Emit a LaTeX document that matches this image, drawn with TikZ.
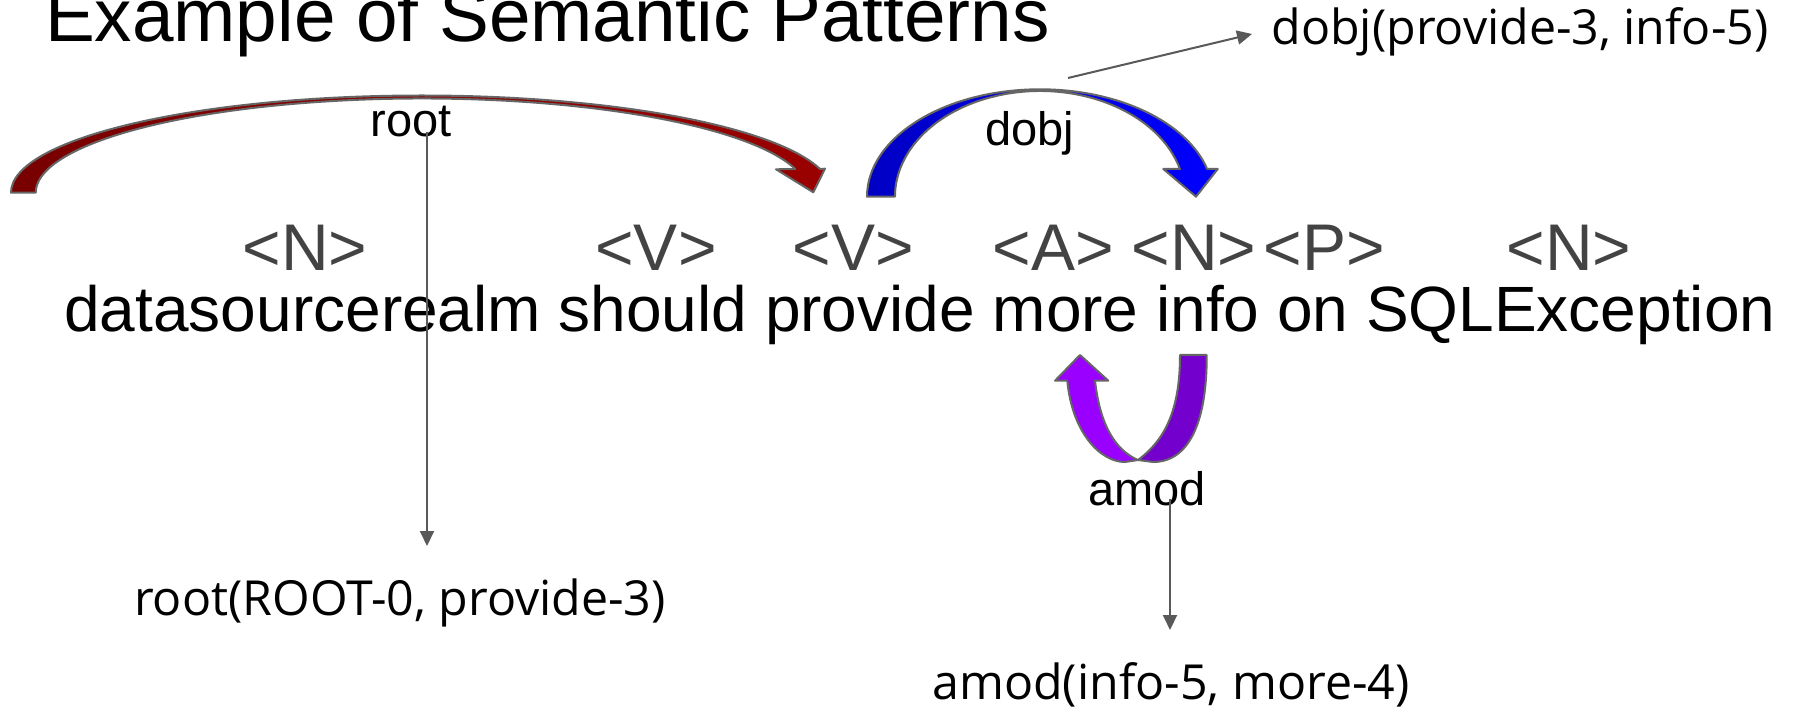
\documentclass[tikz,border=0pt]{standalone}
\usepackage{fontspec}
\setmainfont{Liberation Sans}
\newfontfamily\osans{Open Sans}
\usetikzlibrary{arrows.meta}
\definecolor{tagc}{HTML}{434343}
\definecolor{linec}{HTML}{595959}
\definecolor{edgec}{HTML}{666666}
\definecolor{rootL}{HTML}{780000}
\definecolor{rootR}{HTML}{9A0000}
\definecolor{dobjL}{HTML}{0000C4}
\definecolor{dobjR}{HTML}{0000FF}
\definecolor{amodL}{HTML}{9900FF}
\definecolor{amodR}{HTML}{7300CC}
\begin{document}
\begin{tikzpicture}[x=1pt,y=-1pt,
  txt/.style={inner sep=0pt, outer sep=0pt, anchor=base},
  titletxt/.style={txt, anchor=base west, font=\fontsize{74.7}{80}\selectfont},
  sent/.style={txt, font=\fontsize{64}{70}\selectfont},
  tagtxt/.style={txt, font=\fontsize{66}{72}\selectfont, text=tagc},
  lbl/.style={txt, font=\fontsize{47}{52}\selectfont},
  rel/.style={txt, font=\osans\fontsize{48.3}{52}\selectfont},
  band/.style={draw=edgec, line width=2pt, line join=round},
  ptr/.style={draw=linec, line width=2pt, -{Triangle[length=15pt,width=14pt]}},
]
\useasboundingbox (0,0) rectangle (1793,708);
\clip (0,0) rectangle (1793,708);
\fill[white] (0,0) rectangle (1793,708);

% title
\node[titletxt] (title) at (45,42) {Example of Semantic Patterns};

% root arrow
\path[band, left color=rootL, right color=rootR]
  (11,192.7) arc[start angle=180, end angle=14.11, x radius=410.7pt, y radius=97.2pt]
  -- (825,168.7) -- (813.3,192.3) -- (776,169.3) -- (795.3,169)
  arc[start angle=14.57, end angle=180, x radius=386pt, y radius=94.2pt] -- cycle;

% dobj arrow
\path[band, left color=dobjL, right color=dobjR]
  (867,196.7) arc[start angle=180, end angle=14.95, x radius=173pt, y radius=107.4pt]
  -- (1217.7,169) -- (1196,196.7) -- (1163.3,169) -- (1179.9,169)
  arc[start angle=15.19, end angle=180, x radius=145pt, y radius=105.7pt] -- cycle;

% amod arrow
\path[band, fill=amodR]
  (1180,355) -- (1206.7,355) .. controls (1207,420) and (1190,462) .. (1153,462)
  -- (1138,460) .. controls (1165,440) and (1180,410) .. (1180,355) -- cycle;
\path[band, fill=amodL]
  (1080,355) -- (1108.3,380.7) -- (1095,380.7)
  .. controls (1100,425) and (1115,450) .. (1138,460)
  -- (1125,462) .. controls (1100,462) and (1072,432) .. (1067.3,380.7)
  -- (1055,380.7) -- cycle;

% labels
\node[lbl] (rootlbl) at (411,136.5) {root};
\node[lbl] (dobjlbl) at (1030,146) {dobj};
\node[lbl] (amodlbl) at (1147,505) {amod};

% tags
\node[tagtxt] (tag1) at (305,271) {<N>};
\node[tagtxt] (tag2) at (656,271) {<V>};
\node[tagtxt] (tag3) at (853,271) {<V>};
\node[tagtxt] (tag4) at (1053,271) {<A>};
\node[tagtxt] (tag5) at (1194,271) {<N>};
\node[tagtxt] (tag6) at (1324,271) {<P>};
\node[tagtxt] (tag7) at (1569,271) {<N>};

% sentence
\node[sent] (sent) at (920,332) {datasourcerealm should provide more info on SQLException};

% relation texts
\node[rel] (dobjrel) at (1520,45) {dobj(provide-3, info-5)};
\node[rel] (rootrel) at (400,615) {root(ROOT-0, provide-3)};
\node[rel] (amodrel) at (1171,699) {amod(info-5, more-4)};

% pointers
\coordinate (rootS) at (427,132);
\coordinate (rootE) at (427,546);
\coordinate (dobjS) at (1068,78);
\coordinate (dobjE) at (1252,34);
\coordinate (amodS) at (1170,499);
\coordinate (amodE) at (1170,630);
\draw[ptr] (rootS) -- (rootE);
\draw[ptr] (dobjS) -- (dobjE);
\draw[ptr] (amodS) -- (amodE);
\end{tikzpicture}
\end{document}
